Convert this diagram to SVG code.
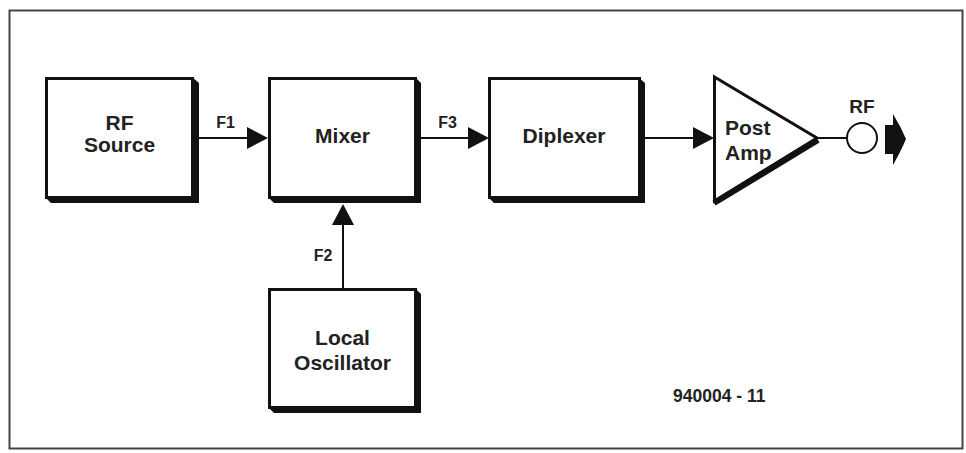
<svg xmlns="http://www.w3.org/2000/svg" width="966" height="453" viewBox="0 0 966 453">
  <style>
    .box { fill: #fff; stroke: #111; stroke-width: 3; }
    .shadow { fill: #111; }
    .lbl { font-family: "Liberation Sans", Arial, sans-serif; font-weight: bold; font-size: 21px; fill: #222; text-anchor: middle; }
    .sig { font-family: "Liberation Sans", Arial, sans-serif; font-weight: bold; font-size: 16px; fill: #222; text-anchor: middle; }
    .wire { stroke: #111; stroke-width: 2; fill: none; }
    .head { fill: #111; }
  </style>
  <rect x="0" y="0" width="966" height="453" fill="#fff"/>
  <rect id="frame" x="9.5" y="10.5" width="953" height="438" fill="none" stroke="#444" stroke-width="2"/>

  <g id="rf-source">
    <polygon class="shadow" points="192,77 199,83 199,203 51,203 45,197 192,197"/>
    <rect class="box" x="46.5" y="78.5" width="146" height="119"/>
    <text class="lbl" x="119.5" y="130">RF</text>
    <text class="lbl" x="119.5" y="152">Source</text>
  </g>

  <g id="mixer">
    <polygon class="shadow" points="415,77 421,83 421,203 274,203 268,197 415,197"/>
    <rect class="box" x="269.5" y="78.5" width="146" height="119"/>
    <text class="lbl" x="342.5" y="143">Mixer</text>
  </g>

  <g id="diplexer">
    <polygon class="shadow" points="638,77 645,83 645,203 494,203 488,197 638,197"/>
    <rect class="box" x="489.5" y="78.5" width="150" height="119"/>
    <text class="lbl" x="564" y="143">Diplexer</text>
  </g>

  <g id="local-oscillator">
    <polygon class="shadow" points="415,288 421,294 421,413 274,413 268,407 415,407"/>
    <rect class="box" x="269.5" y="289.5" width="146" height="118"/>
    <text class="lbl" x="342.5" y="345">Local</text>
    <text class="lbl" x="342.5" y="370">Oscillator</text>
  </g>

  <g id="post-amp">
    <polygon points="714.5,77 817,138 714.5,201" fill="#fff" stroke="#111" stroke-width="3" stroke-linejoin="miter"/>
    <line x1="714" y1="203" x2="818" y2="140" stroke="#111" stroke-width="6"/>
    <text class="lbl" x="725" y="135" style="text-anchor:start">Post</text>
    <text class="lbl" x="725" y="160" style="text-anchor:start">Amp</text>
  </g>

  <g id="rf-output">
    <circle cx="862" cy="138" r="15" fill="#fff" stroke="#111" stroke-width="2"/>
    <text class="lbl" x="862" y="113" style="font-size:19px">RF</text>
    <path d="M885,125 H893 V114 Q901,127 906,139 Q901,151 893,165 V154 H885 Z" fill="#111"/>
  </g>

  <g id="connectors">
    <line class="wire" x1="199" y1="138" x2="248" y2="138"/>
    <polygon class="head" points="247,127 268,138 247,149"/>
    <text class="sig" x="225.5" y="128">F1</text>

    <line class="wire" x1="421" y1="138" x2="469" y2="138"/>
    <polygon class="head" points="468,127 489,138 468,149"/>
    <text class="sig" x="447.5" y="128">F3</text>

    <line class="wire" x1="645" y1="138" x2="694" y2="138"/>
    <polygon class="head" points="693,127 714,138 693,149"/>

    <line class="wire" x1="343" y1="288" x2="343" y2="224"/>
    <polygon class="head" points="332,225 343,204 354,225"/>
    <text class="sig" x="323" y="261">F2</text>

    <line class="wire" x1="817" y1="138" x2="847" y2="138"/>
  </g>

  <text id="figure-number" x="673" y="402" style="font-family:'Liberation Sans',Arial,sans-serif;font-weight:bold;font-size:17.5px;fill:#222">940004 - 11</text>
</svg>
